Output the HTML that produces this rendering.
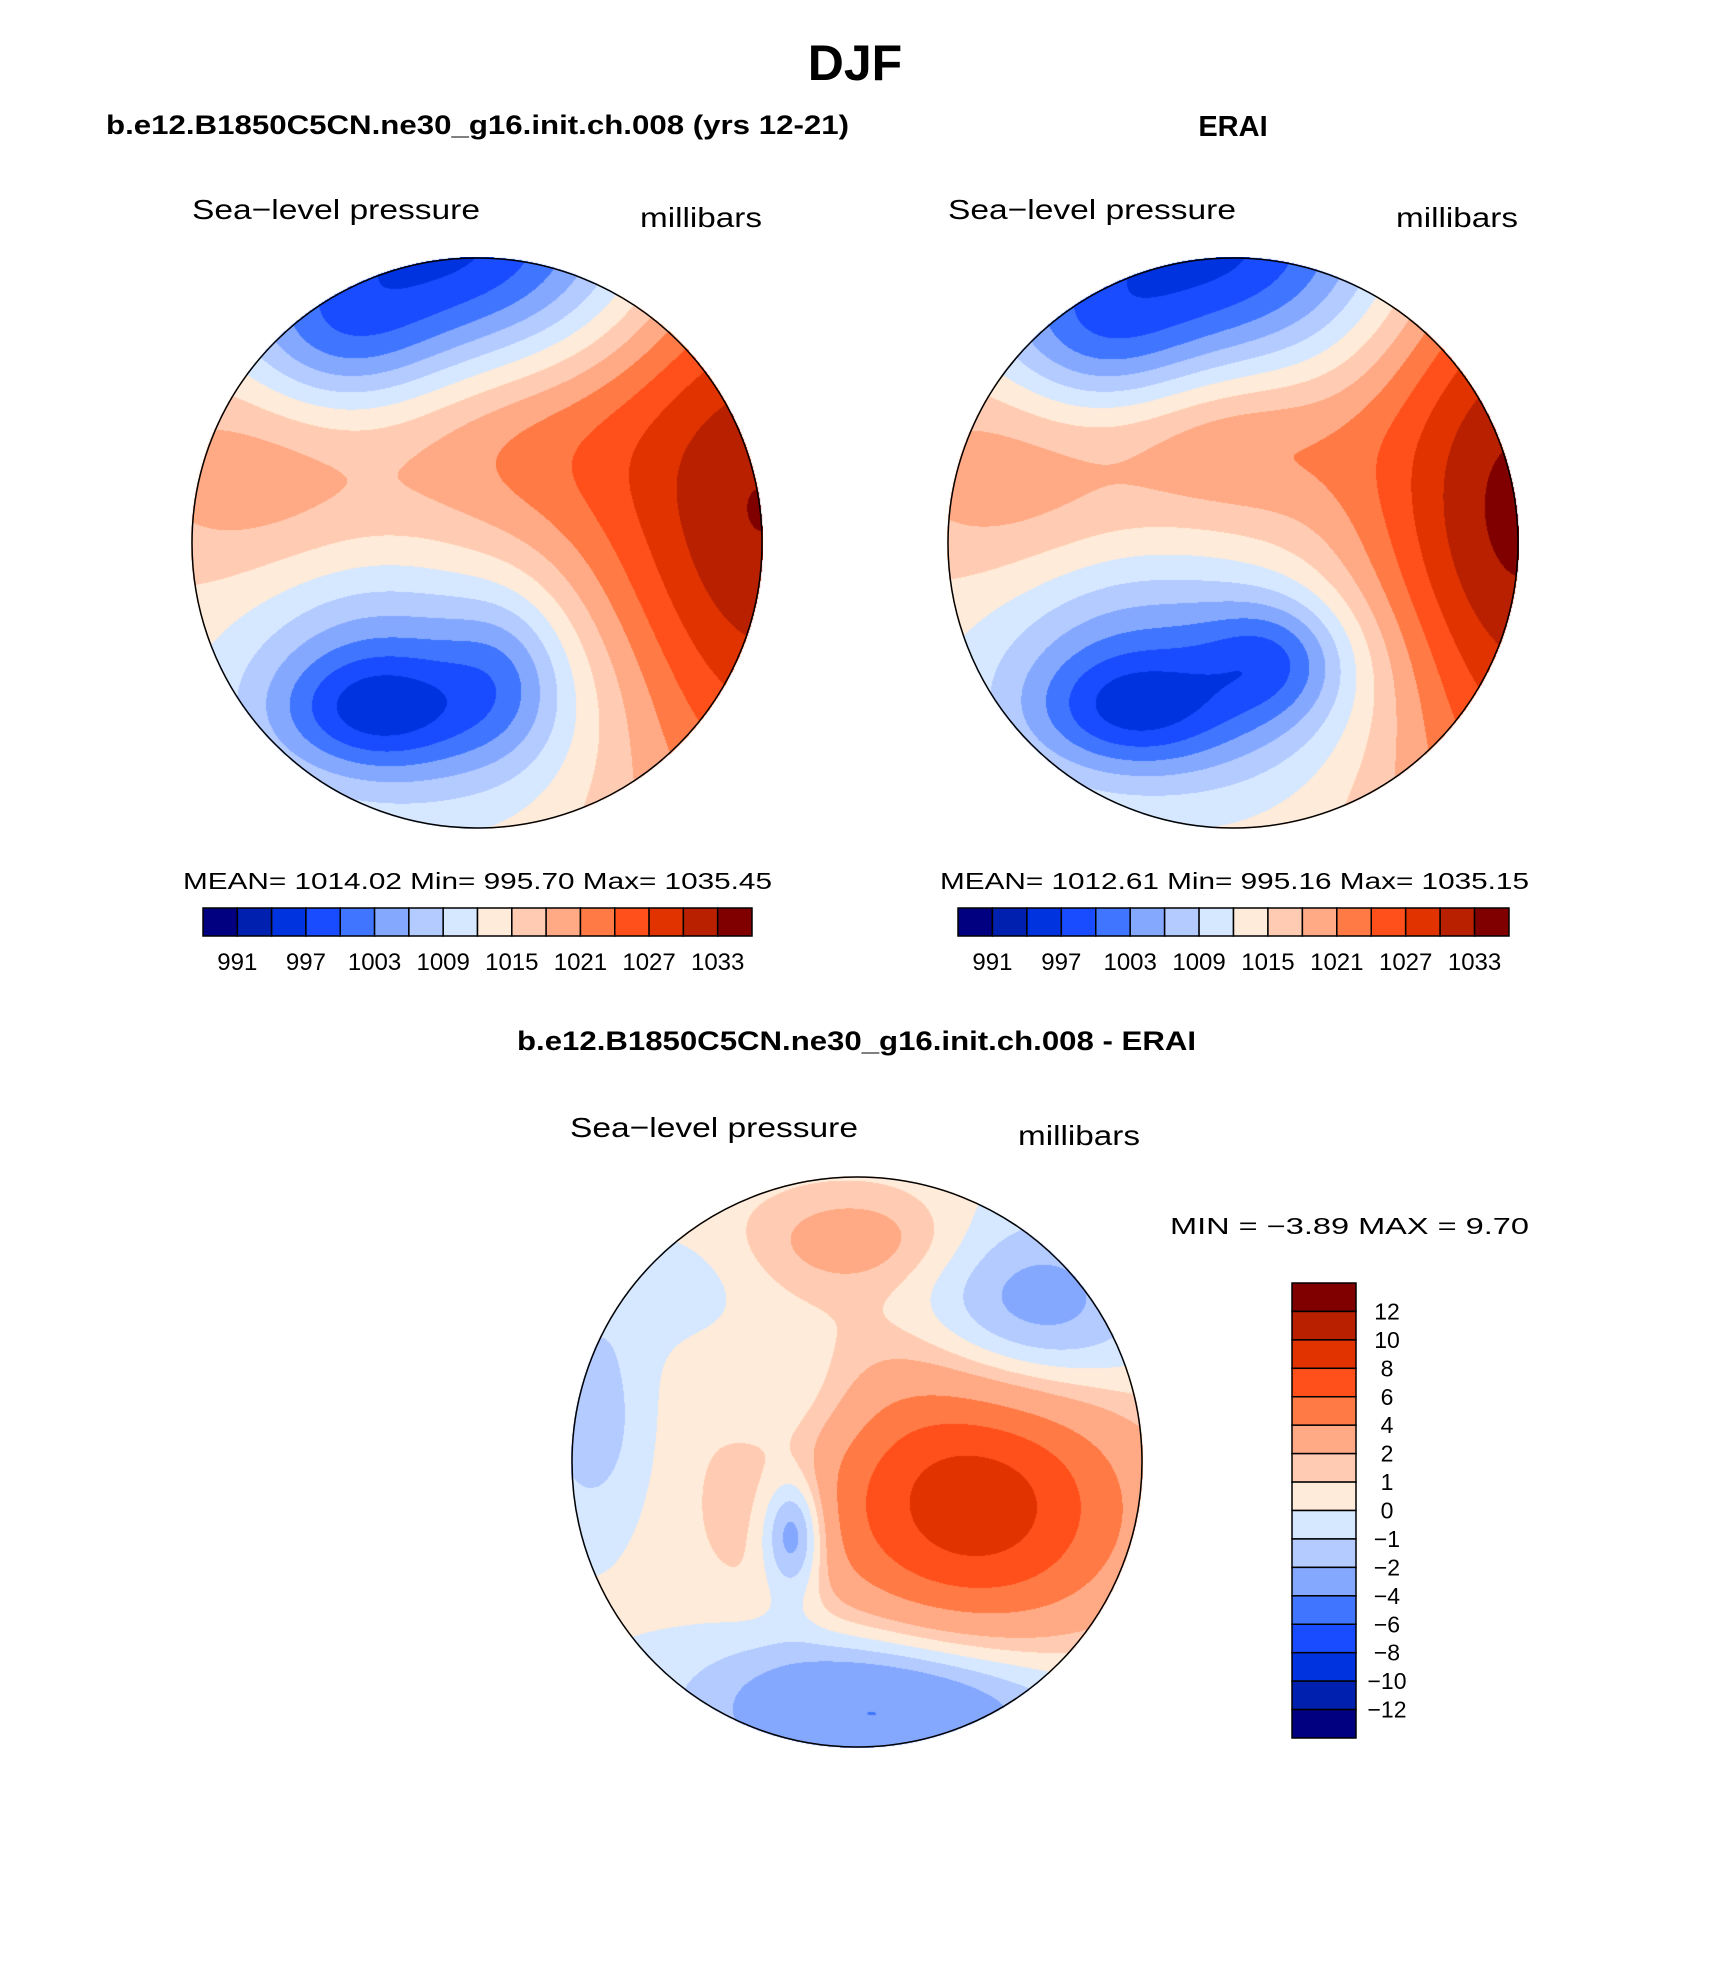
<!DOCTYPE html>
<html><head><meta charset="utf-8"><style>
body{margin:0;background:#fff;}
#root{position:relative;width:1710px;height:1961px;overflow:hidden;background:#fff;}
canvas{position:absolute;}
svg{position:absolute;left:0;top:0;}
text{font-family:"Liberation Sans",sans-serif;fill:#000;}
</style></head><body>
<div id="root">
<canvas id="m1" width="572" height="572" style="left:191px;top:257px"></canvas>
<canvas id="m2" width="572" height="572" style="left:947px;top:257px"></canvas>
<canvas id="m3" width="572" height="572" style="left:571px;top:1176px"></canvas>
<svg id="s" width="1710" height="1961">
<text x="855" y="80" font-size="50" font-weight="bold" text-anchor="middle">DJF</text>
<text x="106" y="134" font-size="27" font-weight="bold" textLength="743" lengthAdjust="spacingAndGlyphs">b.e12.B1850C5CN.ne30_g16.init.ch.008 (yrs 12-21)</text>
<text x="1233" y="136" font-size="29" font-weight="bold" text-anchor="middle">ERAI</text>
<text x="192" y="219" font-size="28" textLength="288" lengthAdjust="spacingAndGlyphs">Sea−level pressure</text>
<text x="640" y="227" font-size="28" textLength="122" lengthAdjust="spacingAndGlyphs">millibars</text>
<text x="948" y="219" font-size="28" textLength="288" lengthAdjust="spacingAndGlyphs">Sea−level pressure</text>
<text x="1396" y="227" font-size="28" textLength="122" lengthAdjust="spacingAndGlyphs">millibars</text>
<text x="183" y="889" font-size="23" textLength="589" lengthAdjust="spacingAndGlyphs">MEAN=  1014.02    Min=  995.70    Max=  1035.45</text>
<text x="940" y="889" font-size="23" textLength="589" lengthAdjust="spacingAndGlyphs">MEAN=  1012.61    Min=  995.16    Max=  1035.15</text>
<text x="517" y="1050" font-size="27" font-weight="bold" textLength="679" lengthAdjust="spacingAndGlyphs">b.e12.B1850C5CN.ne30_g16.init.ch.008 - ERAI</text>
<text x="570" y="1137" font-size="28" textLength="288" lengthAdjust="spacingAndGlyphs">Sea−level pressure</text>
<text x="1018" y="1145" font-size="28" textLength="122" lengthAdjust="spacingAndGlyphs">millibars</text>
<text x="1170" y="1234" font-size="23" textLength="359" lengthAdjust="spacingAndGlyphs">MIN  =    −3.89  MAX  =     9.70</text>
<circle cx="477" cy="543" r="285" fill="none" stroke="#000" stroke-width="1.5"/>
<circle cx="1233" cy="543" r="285" fill="none" stroke="#000" stroke-width="1.5"/>
<circle cx="857" cy="1462" r="285" fill="none" stroke="#000" stroke-width="1.5"/>
<g id="cb"></g>
</svg>
</div>
<script>
const colors=["#000080","#0020b0","#0033e0","#1a4cff","#4076ff","#85a8ff","#b3cbff","#d6e8ff","#ffebd9","#ffccb3","#ffaa85","#ff7a45","#ff4f1a","#e03300","#b82000","#800000"];
const slpLevels=[991,994,997,1000,1003,1006,1009,1012,1015,1018,1021,1024,1027,1030,1033];
const slpTickLabels=["991","997","1003","1009","1015","1021","1027","1033"];
const diffLevels=[-12,-10,-8,-6,-4,-2,-1,0,1,2,4,6,8,10,12];
const diffTickLabels=["12","10","8","6","4","2","1","0","−1","−2","−4","−6","−8","−10","−12"];
// blob fields: x,y normalized to map radius, amplitude, spreads
const m1Base=1014;
const m1X=[1.0,0.1,-0.05,-0.5,-0.37,-0.15,0.1,-0.45,-0.8];
const m1Y=[-0.1,-0.35,-1.05,-0.7,0.59,0.55,0.45,0.25,-0.25];
const m1A=[19,6,-18,-8,-10,-10,-5,-3,6];
const m1SX=[0.45,0.35,0.5,0.25,0.25,0.45,0.15,0.3,0.35];
const m1SY=[0.8,0.25,0.32,0.2,0.15,0.28,0.2,0.2,0.3];
const m2Base=1014;
const m2X=[1.0,0.0,-0.05,-0.5,-0.37,-0.1,0.15,-0.45,-0.8];
const m2Y=[-0.1,-0.35,-1.05,-0.7,0.59,0.5,0.4,0.25,-0.25];
const m2A=[20,7,-18,-8,-10,-10,-8,-3,6];
const m2SX=[0.4,0.3,0.5,0.25,0.25,0.5,0.18,0.3,0.35];
const m2SY=[0.85,0.2,0.32,0.2,0.15,0.28,0.15,0.2,0.3];
const m3Base=0.3;
const m3X=[0.43,0.1,0.1,0.6,-0.2,-0.22,-0.92,0,-0.6];
const m3Y=[0.15,-0.1,0.85,-0.5,-0.22,0.25,-0.15,-0.78,-0.6];
const m3A=[8.3,1.2,-5,-4,-1.7,-5,-2,2.2,-1];
const m3SX=[0.38,0.5,0.45,0.3,0.17,0.08,0.15,0.25,0.2];
const m3SY=[0.33,0.5,0.2,0.25,0.18,0.15,0.3,0.12,0.15];

function drawMap(id,base,X,Y,A,SX,SY,levels){
  const c=document.getElementById(id),ctx=c.getContext('2d');
  const W=c.width,R=W/2,img=ctx.createImageData(W,W);
  const rgb=colors.map(h=>[parseInt(h.substr(1,2),16),parseInt(h.substr(3,2),16),parseInt(h.substr(5,2),16)]);
  for(let j=0;j<W;j++)for(let i=0;i<W;i++){
    const x=(i+0.5-R)/R,y=(j+0.5-R)/R;
    if(x*x+y*y>1)continue;
    let v=base;
    for(let k=0;k<X.length;k++){const dx=(x-X[k])/SX[k],dy=(y-Y[k])/SY[k];v+=A[k]*Math.exp(-0.5*(dx*dx+dy*dy));}
    let idx=0;while(idx<levels.length&&v>=levels[idx])idx++;
    const p=(j*W+i)*4,col=rgb[idx];img.data[p]=col[0];img.data[p+1]=col[1];img.data[p+2]=col[2];img.data[p+3]=255;
  }
  ctx.putImageData(img,0,0);
}
drawMap('m1',m1Base,m1X,m1Y,m1A,m1SX,m1SY,slpLevels);
drawMap('m2',m2Base,m2X,m2Y,m2A,m2SX,m2SY,slpLevels);
drawMap('m3',m3Base,m3X,m3Y,m3A,m3SX,m3SY,diffLevels);

const NS='http://www.w3.org/2000/svg',cb=document.getElementById('cb');
function hbar(x0,x1,y0,y1,prefix){
  const n=colors.length,w=(x1-x0)/n;
  colors.forEach((col,i)=>{
    const r=document.createElementNS(NS,'rect');
    r.setAttribute('x',x0+i*w);r.setAttribute('y',y0);r.setAttribute('width',w);r.setAttribute('height',y1-y0);
    r.setAttribute('fill',col);r.setAttribute('stroke','#000');r.setAttribute('stroke-width','1.5');
    
    
    cb.appendChild(r);
  });
  slpTickLabels.forEach((lab,k)=>{
    const t=document.createElementNS(NS,'text');
    t.setAttribute('x',x0+(1+2*k)*w);t.setAttribute('y',y1+34);t.setAttribute('font-size','24');t.setAttribute('text-anchor','middle');
    t.textContent=lab;
    
    
    cb.appendChild(t);
  });
}
hbar(203,752,908,936,'model');
hbar(958,1509,908,936,'erai');
(function(){
  const x0=1292,x1=1356,y0=1283,y1=1738,n=colors.length,h=(y1-y0)/n;
  colors.slice().reverse().forEach((col,i)=>{
    const r=document.createElementNS(NS,'rect');
    r.setAttribute('x',x0);r.setAttribute('y',y0+i*h);r.setAttribute('width',x1-x0);r.setAttribute('height',h);
    r.setAttribute('fill',col);r.setAttribute('stroke','#000');r.setAttribute('stroke-width','1.5');
    
    
    cb.appendChild(r);
  });
  diffTickLabels.forEach((lab,k)=>{
    const t=document.createElementNS(NS,'text');
    t.setAttribute('x',1387);t.setAttribute('y',y0+(k+1)*h+8);t.setAttribute('font-size','23');t.setAttribute('text-anchor','middle');
    t.textContent=lab;
    
    
    cb.appendChild(t);
  });
})();
</script>
</body></html>
